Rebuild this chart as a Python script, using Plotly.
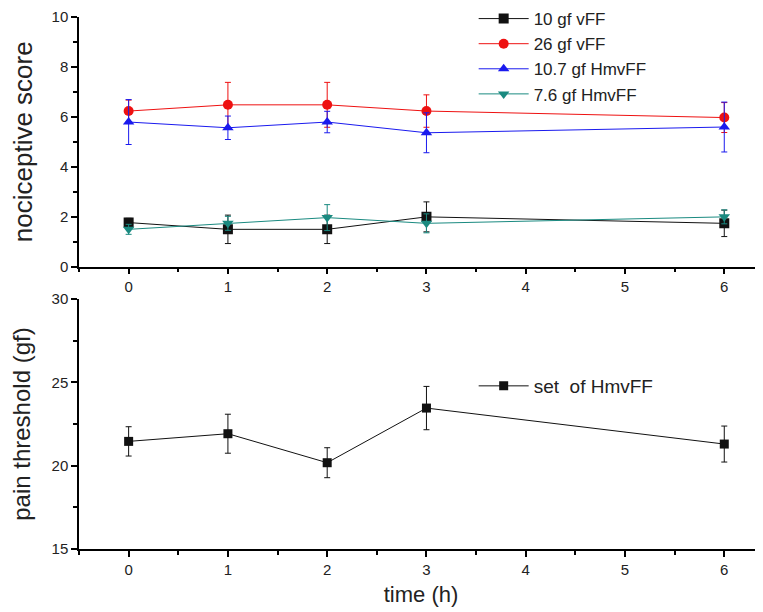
import plotly.graph_objects as go
from plotly.subplots import make_subplots

time_h = [0, 1, 2, 3, 6]

vff10 = [1.76, 1.49, 1.49, 1.99, 1.73]
vff10_err = [0.17, 0.57, 0.57, 0.6, 0.53]
vff26 = [6.23, 6.48, 6.48, 6.23, 5.97]
vff26_err = [0.44, 0.9, 0.9, 0.65, 0.6]
hmv107 = [5.79, 5.56, 5.79, 5.36, 5.59]
hmv107_err = [0.9, 0.47, 0.43, 0.8, 1.0]
hmv76 = [1.49, 1.73, 1.96, 1.73, 1.99]
hmv76_err = [0.2, 0.28, 0.52, 0.38, 0.28]

thresh = [21.46, 21.92, 20.18, 23.46, 21.3]
thresh_err = [0.88, 1.17, 0.9, 1.3, 1.08]

x_ticks = [0, 1, 2, 3, 4, 5, 6]

FONT = "Liberation Sans, Arial, sans-serif"

fig = make_subplots(rows=2, cols=1, shared_xaxes=False, vertical_spacing=0.0)

top_series = [
    ("10 gf vFF", vff10, vff10_err, "#111111", "square"),
    ("26 gf vFF", vff26, vff26_err, "#ee1111", "circle"),
    ("10.7 gf HmvFF", hmv107, hmv107_err, "#1a1aee", "triangle-up"),
    ("7.6 gf HmvFF", hmv76, hmv76_err, "#1a8a80", "triangle-down"),
]
for name, vals, errs, col, sym in top_series:
    fig.add_trace(go.Scatter(
        x=time_h, y=vals, name=name, mode="lines+markers",
        line=dict(color=col, width=1),
        marker=dict(symbol=sym, size=10, color=col),
        error_y=dict(type="data", array=errs, color=col, thickness=1, width=3),
        legend="legend",
    ), row=1, col=1)

fig.add_trace(go.Scatter(
    x=time_h, y=thresh, name="set  of HmvFF", mode="lines+markers",
    line=dict(color="#111111", width=1),
    marker=dict(symbol="square", size=9, color="#111111"),
    error_y=dict(type="data", array=thresh_err, color="#111111", thickness=1, width=3),
    legend="legend2",
), row=2, col=1)

axis_common = dict(
    showline=True, linecolor="black", linewidth=1.5, ticks="outside",
    ticklen=6, tickwidth=1.5, tickcolor="black", showgrid=False, zeroline=False,
    tickfont=dict(family=FONT, size=15, color="#222"),
    mirror=False,
)
minor_common = dict(ticklen=4, ticks="outside", tickcolor="black", tickwidth=1.5)

top_dom = [0.531, 1.0]
bot_dom = [0.0, 0.4697]

fig.update_layout(
    width=755, height=604,
    margin=dict(l=71, r=0, t=9, b=63, autoexpand=False),
    plot_bgcolor="white", paper_bgcolor="white",
    font=dict(family=FONT, color="#222"),
    showlegend=True,
    legend=dict(x=0.577, y=1.03, xanchor="left", yanchor="top",
                font=dict(family=FONT, size=17, color="#222"),
                bgcolor="rgba(0,0,0,0)", tracegroupgap=0, itemwidth=50),
    legend2=dict(x=0.577, y=0.3064, xanchor="left", yanchor="middle",
                 font=dict(family=FONT, size=19, color="#222"),
                 bgcolor="rgba(0,0,0,0)", itemwidth=50),
    xaxis=dict(axis_common, domain=[0, 1], range=[-0.5, 6.39], tickvals=x_ticks,
               minor=dict(minor_common, dtick=0.5, tick0=0),
               anchor="y"),
    yaxis=dict(axis_common, domain=top_dom, range=[0, 10], dtick=2,
               minor=dict(minor_common, dtick=1),
               title=dict(text="nociceptive score", font=dict(family=FONT, size=26, color="#222"), standoff=22),
               anchor="x"),
    xaxis2=dict(axis_common, domain=[0, 1], range=[-0.5, 6.39], tickvals=x_ticks,
                minor=dict(minor_common, dtick=0.5, tick0=0),
                title=dict(text="time (h)", font=dict(family=FONT, size=22, color="#222"), standoff=10),
                anchor="y2"),
    yaxis2=dict(axis_common, domain=bot_dom, range=[15, 30], dtick=5,
                minor=dict(minor_common, dtick=2.5),
                title=dict(text="pain threshold (gf)", font=dict(family=FONT, size=24, color="#222"), standoff=18),
                anchor="x2"),
)

fig.write_html("out.html")
